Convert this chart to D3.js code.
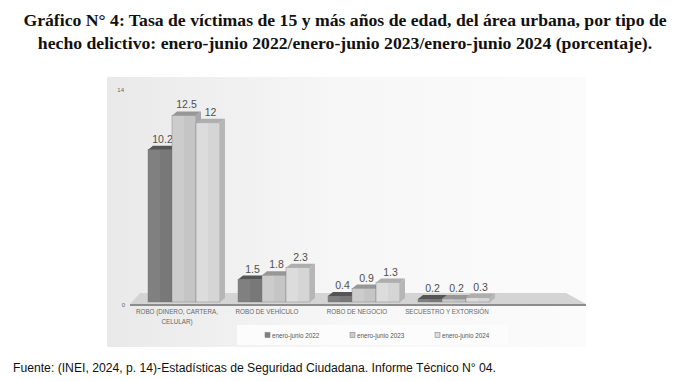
<!DOCTYPE html>
<html><head><meta charset="utf-8">
<script src="https://cdn.jsdelivr.net/npm/d3@7/dist/d3.min.js"></script>
<style>body{margin:0;background:#fff}svg{display:block}</style>
</head><body>
<svg id="c" width="686" height="381"></svg>
<script>
const categories = [["ROBO (DINERO, CARTERA,","CELULAR)"],["ROBO DE VEHÍCULO"],["ROBO DE NEGOCIO"],["SECUESTRO Y EXTORSIÓN"]];
const seriesNames = ["enero-junio 2022","enero-junio 2023","enero-junio 2024"];
const v2022 = [10.2, 1.5, 0.4, 0.2];
const v2023 = [12.5, 1.8, 0.9, 0.2];
const v2024 = [12, 2.3, 1.3, 0.3];
const yTicks = [0, 14];
const titleLines = ["Gráfico N° 4: Tasa de víctimas de 15 y más años de edad, del área urbana, por tipo de",
  "hecho delictivo: enero-junio 2022/enero-junio 2023/enero-junio 2024 (porcentaje)."];
const source = "Fuente: (INEI, 2024, p. 14)-Estadísticas de Seguridad Ciudadana. Informe Técnico N° 04.";

const series = [v2022, v2023, v2024];
const frontCol = ["#808080", "#cccccc", "#dcdcdc"];
const topCol = ["#555555", "#979797", "#aeaeae"];
const sideCol = ["#666666", "#a6a6a6", "#b6b6b6"];

const svg = d3.select("#c");
const defs = svg.append("defs");
const pg = defs.append("linearGradient").attr("id","pg").attr("x1","0").attr("x2","1");
pg.append("stop").attr("offset","0").attr("stop-color","#e9e9e9");
pg.append("stop").attr("offset","0.5").attr("stop-color","#f7f7f7");
pg.append("stop").attr("offset","1").attr("stop-color","#fbfbfb");

// title
svg.append("g").selectAll("text").data(titleLines).join("text")
  .attr("x", 345).attr("y", (d,i)=>26+i*23).attr("text-anchor","middle")
  .attr("font-family","Liberation Serif, Times New Roman, serif").attr("font-weight","bold")
  .attr("font-size", 17.7).attr("fill","#111").text(d=>d);

// panel
svg.append("rect").attr("x",107).attr("y",77).attr("width",479).attr("height",270).attr("fill","url(#pg)");

const x0 = d3.scaleBand().domain(d3.range(categories.length)).range([132, 492]).paddingInner(0).paddingOuter(0);
const y = d3.scaleLinear().domain([0, 14]).range([302, 93]);
const bw = 24, dx = 5, dy = 4;
const x1 = d3.scaleBand().domain(d3.range(3)).range([0, 3*bw]);

// floor
const base = y(0);
svg.append("path").attr("d", `M130,${base+2} L140,${base-9} L566,${base-9} L586,${base+2} Z`).attr("fill","#d4d4d4");
svg.append("line").attr("x1",130).attr("x2",586).attr("y1",base+3).attr("y2",base+3).attr("stroke","#8c8c8c").attr("stroke-width",2);

// y tick labels
svg.append("g").selectAll("text").data(yTicks).join("text")
  .attr("x", d=> d===0?125:124).attr("y", d=>y(d)+ (d===0?5:-1)).attr("text-anchor","end")
  .attr("font-family","Liberation Sans, Arial, sans-serif").attr("font-size",6).attr("fill","#666").text(d=>d);

// bars
const bars = [];
categories.forEach((c,ci)=>{ series.forEach((s,si)=>bars.push({ci, si, v:s[ci]})); });
const g = svg.append("g");
bars.forEach(b=>{
  const xl = x0(b.ci) + x0.bandwidth()/2 - 29 + x1(b.si);
  const yt = y(b.v), yb = base;
  const gg = g.append("g");
  gg.append("rect").attr("x",xl).attr("y",yt).attr("width",bw).attr("height",Math.max(0,yb-yt)).attr("fill",frontCol[b.si]).attr("stroke","#777").attr("stroke-width",0.4);
  gg.append("rect").attr("x",xl+bw/2).attr("y",yt).attr("width",bw/2).attr("height",Math.max(0,yb-yt)).attr("fill","#000").attr("opacity",b.si===0?0.06:0.03);
  gg.append("path").attr("d",`M${xl},${yt} L${xl+dx},${yt-dy} L${xl+bw+dx},${yt-dy} L${xl+bw},${yt} Z`).attr("fill",topCol[b.si]);
  gg.append("path").attr("d",`M${xl+bw},${yt} L${xl+bw+dx},${yt-dy} L${xl+bw+dx},${yb-dy} L${xl+bw},${yb} Z`).attr("fill",sideCol[b.si]);
  g.append("text").attr("x", xl+bw/2+dx/2).attr("y", yt-dy-3).attr("text-anchor","middle")
    .attr("font-family","Liberation Sans, Arial, sans-serif").attr("font-size",10.5).attr("fill","#505050").text(b.v);
});

// category labels
const cl = svg.append("g");
categories.forEach((lines,ci)=>{
  lines.forEach((t,li)=>{
    cl.append("text").attr("x", x0(ci)+x0.bandwidth()/2).attr("y", 314+li*10).attr("text-anchor","middle")
      .attr("font-family","Liberation Sans, Arial, sans-serif").attr("font-size",6.3).attr("fill","#666").text(t);
  });
});

// legend
svg.append("rect").attr("x",237).attr("y",325).attr("width",271).attr("height",20).attr("fill","#fcfcfc");
const lx = [265, 350, 435];
seriesNames.forEach((n,i)=>{
  svg.append("rect").attr("x",lx[i]).attr("y",332.5).attr("width",5).attr("height",5).attr("fill",frontCol[i]).attr("stroke","#777").attr("stroke-width",0.5);
  svg.append("text").attr("x",lx[i]+7).attr("y",337.5).attr("font-family","Liberation Sans, Arial, sans-serif").attr("font-size",6.3).attr("fill","#555").text(n);
});

// source
svg.append("text").attr("x",13).attr("y",372).attr("font-family","Liberation Sans Narrow, Liberation Sans, Arial, sans-serif")
  .attr("font-size",12).attr("fill","#111").attr("textLength",483).attr("lengthAdjust","spacingAndGlyphs").text(source);
</script>
</body></html>
